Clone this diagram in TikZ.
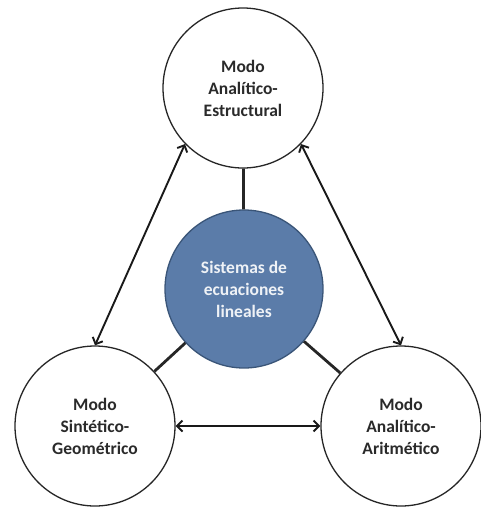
\documentclass[tikz,border=0pt]{standalone}
\usepackage{fontspec}
\setmainfont{Carlito}
\usetikzlibrary{arrows.meta}
\definecolor{bluefill}{HTML}{5B7CA9}
\definecolor{blueedge}{HTML}{3A5578}
\definecolor{txt}{HTML}{2A2A2A}
\tikzset{
  mode/.style={circle, draw=black!85, line width=1.3pt, fill=white, minimum size=160pt, inner sep=0pt,
    align=center, font=\fontsize{17.5}{22}\selectfont\bfseries, text=txt},
  core/.style={circle, draw=blueedge, line width=1.3pt, fill=bluefill, minimum size=158pt, inner sep=0pt,
    align=center, font=\fontsize{17.5}{22}\selectfont\bfseries, text=white!90!bluefill},
  link/.style={line width=2.8pt, black!85},
  biarrow/.style={line width=1.9pt, black!90, {Straight Barb[length=5.5pt,width=11pt]}-{Straight Barb[length=5.5pt,width=11pt]}}
}
\begin{document}
\begin{tikzpicture}[x=1pt,y=-1pt]
\useasboundingbox (0,0) rectangle (481,507);
\node[mode] (top) at (243,88) {Modo\\Analítico-\\Estructural};
\node[core] (c) at (244,289) {Sistemas de\\ecuaciones\\lineales};
\node[mode] (bl) at (95,426) {Modo\\Sintético-\\Geométrico};
\node[mode] (br) at (401,426) {Modo\\Analítico-\\Aritmético};
\draw[link] (c) -- (top);
\draw[link] (c) -- (bl);
\draw[link] (c) -- (br);
\draw[biarrow] (top.224) -- (bl.90);
\draw[biarrow] (top.316) -- (br.90);
\draw[biarrow] (bl.east) -- (br.west);
\end{tikzpicture}
\end{document}
